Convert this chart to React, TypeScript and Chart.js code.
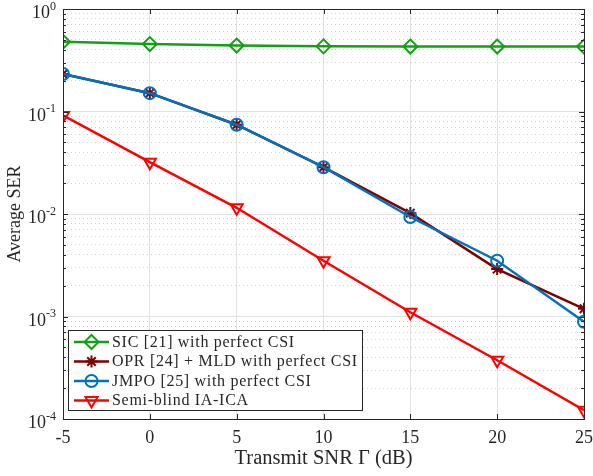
import React, { useEffect, useRef } from 'react';
import { Chart, registerables } from 'chart.js';

Chart.register(...registerables);

const snr = [-5, 0, 5, 10, 15, 20, 25];
const sicSer = [0.48, 0.455, 0.44, 0.432, 0.43, 0.43, 0.43];
const oprSer = [0.232, 0.151, 0.0743, 0.0286, 0.0102, 0.0029, 0.00119];
const jmpoSer = [0.232, 0.151, 0.0743, 0.0286, 0.00935, 0.0035, 0.00089];
const semiSer = [0.0915, 0.032, 0.0115, 0.0035, 0.0011, 0.000374, 0.000122];
const seriesLabels = [
  'SIC [21] with perfect CSI',
  'OPR [24] + MLD with perfect CSI',
  'JMPO [25] with perfect CSI',
  'Semi-blind IA-ICA',
];
const xTicks = [-5, 0, 5, 10, 15, 20, 25];
const yDecades = [-4, -3, -2, -1, 0];
const xTitle = 'Transmit SNR \u0393 (dB)';
const yTitle = 'Average SER';

const FONT = "'Liberation Serif', 'Times New Roman', serif";
const TXT = '#262626';
const COLORS = ['#13a013', '#7f0000', '#0072bd', '#ff0000'];
const STYLES = ['rectRot', 'star', 'circle', 'triangle'];
const RADII = [7, 6, 6, 7];
const ROT = [0, 0, 0, 180];

function markerPath(ctx: CanvasRenderingContext2D, style: string, x: number, y: number, r: number) {
  ctx.beginPath();
  if (style === 'rectRot') {
    ctx.moveTo(x, y - r); ctx.lineTo(x + r, y); ctx.lineTo(x, y + r); ctx.lineTo(x - r, y); ctx.closePath();
  } else if (style === 'circle') {
    ctx.arc(x, y, r, 0, Math.PI * 2);
  } else if (style === 'triangle') {
    const a = Math.PI / 2;
    for (let i = 0; i < 3; i++) {
      const ang = a + i * (2 * Math.PI / 3);
      const px = x + Math.cos(ang) * r, py = y + Math.sin(ang) * r;
      if (i === 0) ctx.moveTo(px, py); else ctx.lineTo(px, py);
    }
    ctx.closePath();
  } else if (style === 'star') {
    for (let i = 0; i < 4; i++) {
      const ang = i * Math.PI / 4;
      ctx.moveTo(x - Math.cos(ang) * r, y - Math.sin(ang) * r);
      ctx.lineTo(x + Math.cos(ang) * r, y + Math.sin(ang) * r);
    }
  }
  ctx.stroke();
}

const framePlugin = {
  id: 'frame',
  afterDatasetsDraw(chart: any) {
    const { ctx, chartArea: a, scales } = chart;
    const xs = scales.x, ys = scales.y;
    ctx.save();
    ctx.strokeStyle = TXT;
    ctx.lineWidth = 1;
    ctx.strokeRect(Math.round(a.left) + 0.5, Math.round(a.top) + 0.5, Math.round(a.right - a.left), Math.round(a.bottom - a.top));
    ctx.beginPath();
    for (const v of xTicks) {
      const px = Math.round(xs.getPixelForValue(v)) + 0.5;
      ctx.moveTo(px, a.bottom); ctx.lineTo(px, a.bottom - 5);
      ctx.moveTo(px, a.top); ctx.lineTo(px, a.top + 5);
    }
    for (const d of yDecades) {
      for (let m = 1; m <= 9; m++) {
        if (d === 0 && m > 1) continue;
        const py = Math.round(ys.getPixelForValue(m * Math.pow(10, d))) + 0.5;
        const len = m === 1 ? 5 : 3;
        ctx.moveTo(a.left, py); ctx.lineTo(a.left + len, py);
        ctx.moveTo(a.right, py); ctx.lineTo(a.right - len, py);
      }
    }
    ctx.stroke();
    // y tick labels (10 with superscript exponent)
    ctx.fillStyle = TXT;
    ctx.textBaseline = 'alphabetic';
    ctx.textAlign = 'left';
    const R = a.left - 7;
    for (const d of yDecades) {
      const py = ys.getPixelForValue(Math.pow(10, d));
      const sup = String(d);
      ctx.font = `12px ${FONT}`;
      const ws = ctx.measureText(sup).width;
      ctx.font = `18px ${FONT}`;
      const wb = ctx.measureText('10').width;
      ctx.fillText('10', R - ws - wb, py + 9);
      ctx.font = `12px ${FONT}`;
      ctx.fillText(sup, R - ws, py + 0.5);
    }
    // legend
    const lx = 68.5, ly = 330.5, lw = 294, lh = 80;
    ctx.fillStyle = '#ffffff';
    ctx.fillRect(lx, ly, lw, lh);
    ctx.strokeStyle = TXT;
    ctx.lineWidth = 1;
    ctx.strokeRect(lx, ly, lw, lh);
    const rows = [342, 361.5, 381, 400.5];
    ctx.font = `16px ${FONT}`;
    try { (ctx as any).letterSpacing = '0.7px'; } catch (e) { /* ignore */ }
    ctx.textBaseline = 'middle';
    for (let i = 0; i < 4; i++) {
      const y = rows[i];
      ctx.strokeStyle = COLORS[i];
      ctx.lineWidth = 2.5;
      ctx.beginPath();
      ctx.moveTo(74, y); ctx.lineTo(109, y);
      ctx.stroke();
      ctx.lineWidth = 2;
      markerPath(ctx, STYLES[i], 91.5, y, RADII[i]);
      ctx.fillStyle = TXT;
      ctx.fillText(seriesLabels[i], 112, y + 0.5);
    }
    try { (ctx as any).letterSpacing = '0px'; } catch (e) { /* ignore */ }
    ctx.restore();
  },
};

export default function App() {
  const ref = useRef<HTMLCanvasElement>(null);
  useEffect(() => {
    const series = [sicSer, oprSer, jmpoSer, semiSer];
    const chart = new Chart(ref.current!, {
      type: 'line',
      data: {
        datasets: series.map((s, i) => ({
          label: seriesLabels[i],
          data: snr.map((x, j) => ({ x, y: s[j] })),
          borderColor: COLORS[i],
          backgroundColor: 'rgba(0,0,0,0)',
          borderWidth: 2.5,
          pointStyle: STYLES[i] as any,
          pointRadius: RADII[i],
          pointRotation: ROT[i],
          pointBorderColor: COLORS[i],
          pointBackgroundColor: 'rgba(0,0,0,0)',
          pointBorderWidth: 2,
          tension: 0,
          order: 4 - i,
        })),
      },
      options: {
        responsive: false,
        animation: false,
        events: [],
        layout: { padding: { left: 0, right: 9, top: 7, bottom: 0 } },
        plugins: { legend: { display: false }, tooltip: { enabled: false } },
        scales: {
          x: {
            type: 'linear',
            min: -5,
            max: 25,
            afterBuildTicks: (s: any) => { s.ticks = xTicks.map((v) => ({ value: v })); },
            afterFit: (s: any) => { s.height = 57; s.paddingLeft = 0; s.paddingRight = 0; },
            grid: { color: '#e2e2e2', lineWidth: 1, drawTicks: false },
            border: { display: false },
            ticks: { autoSkip: false, maxRotation: 0, padding: 8, color: TXT, font: { family: FONT, size: 18 } },
            title: { display: true, text: xTitle, color: TXT, font: { family: FONT, size: 20.5 }, padding: { top: 0, bottom: 5 } },
          },
          y: {
            type: 'logarithmic',
            min: 1e-4,
            max: 1,
            afterBuildTicks: (s: any) => {
              const t: any[] = [];
              for (const d of yDecades) {
                t.push({ value: Math.pow(10, d), major: true });
                if (d < 0) for (let m = 2; m <= 9; m++) t.push({ value: m * Math.pow(10, d), major: false });
              }
              s.ticks = t;
            },
            afterFit: (s: any) => { s.width = 63; },
            grid: {
              drawTicks: false,
              lineWidth: 1,
              color: (c: any) => (c.tick && c.tick.major ? '#e2e2e2' : '#cfcfcf'),
            },
            border: {
              display: false,
              dash: (c: any) => (c.tick && c.tick.major ? [] : [1, 3]),
            } as any,
            ticks: { display: false, autoSkip: false },
            title: { display: true, text: yTitle, color: TXT, font: { family: FONT, size: 18 }, padding: { top: 4, bottom: 0 } },
          },
        },
      },
      plugins: [framePlugin],
    });
    return () => chart.destroy();
  }, []);
  return (
    <div style={{ position: 'absolute', left: 0, top: 0, width: 593, height: 476, background: '#fff' }}>
      <canvas ref={ref} width={593} height={476} />
    </div>
  );
}
